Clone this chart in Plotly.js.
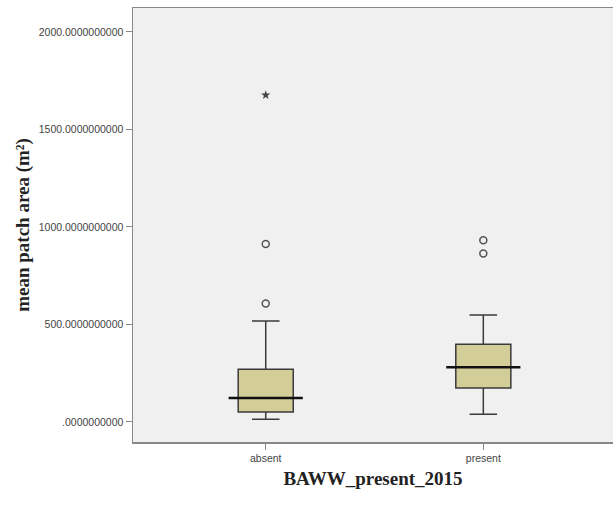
<!DOCTYPE html>
<html>
<head>
<meta charset="utf-8">
<script src="https://cdn.plot.ly/plotly-3.0.1.min.js"></script>
<style>html,body{margin:0;padding:0;background:#fff;}#chart{width:613px;height:508px;}</style>
</head>
<body>
<div id="chart"></div>
<script>
// Categories and box statistics (mean patch area, m²)
var categories = ['absent', 'present'];
var lowerFence = [14, 40];
var q1Values = [51, 174];
var medianValues = [123, 281];
var q3Values = [270, 399];
var upperFence = [518, 549];

// Outliers (circles) and extreme values (stars)
var outlierCats = ['absent', 'absent', 'present', 'present'];
var outlierValues = [607, 912, 864, 932];
var extremeCats = ['absent'];
var extremeValues = [1676];

// Y tick labels
var yTickVals = [0, 500, 1000, 1500, 2000];
var yTickText = ['.0000000000', '500.0000000000', '1000.0000000000', '1500.0000000000', '2000.0000000000'];

var boxTrace = {
  type: 'box',
  x: categories,
  q1: q1Values,
  median: medianValues,
  q3: q3Values,
  lowerfence: lowerFence,
  upperfence: upperFence,
  boxpoints: false,
  width: 0.253,
  whiskerwidth: 0.5,
  fillcolor: 'rgb(211,206,152)',
  line: {color: '#3a3a3a', width: 1.5},
  hoverinfo: 'skip',
  showlegend: false
};

var medianTrace = {
  type: 'scatter',
  mode: 'markers',
  x: categories,
  y: medianValues,
  marker: {symbol: 'line-ew', size: 53, line: {color: '#111', width: 2.5}},
  hoverinfo: 'skip',
  showlegend: false
};

var outlierTrace = {
  type: 'scatter',
  mode: 'markers',
  x: outlierCats,
  y: outlierValues,
  marker: {symbol: 'circle-open', size: 7, color: '#555', line: {color: '#555', width: 1.5}},
  showlegend: false
};

var extremeTrace = {
  type: 'scatter',
  mode: 'markers',
  x: extremeCats,
  y: extremeValues,
  marker: {symbol: 'star', size: 7, color: '#444'},
  showlegend: false
};

var layout = {
  width: 613,
  height: 508,
  margin: {l: 133, r: 0, t: 8, b: 66},
  paper_bgcolor: '#ffffff',
  plot_bgcolor: '#f0f0f0',
  showlegend: false,
  xaxis: {
    type: 'category',
    categoryarray: categories,
    range: [-0.61, 1.596],
    showgrid: false,
    zeroline: false,
    showline: true,
    mirror: true,
    linecolor: '#888',
    linewidth: 1.5,
    ticks: 'outside',
    ticklen: 6,
    tickcolor: '#888',
    tickwidth: 1,
    tickfont: {family: 'Liberation Sans, Arial, sans-serif', size: 10.5, color: '#444'},
    title: {text: '<b>BAWW_present_2015</b>', font: {family: 'Liberation Serif, Times New Roman, serif', size: 19, color: '#222'}, standoff: 8},
    automargin: false
  },
  yaxis: {
    range: [-102.6, 2122.6],
    tickvals: yTickVals,
    ticktext: yTickText,
    showgrid: false,
    zeroline: false,
    showline: true,
    linecolor: '#888',
    linewidth: 1.5,
    ticks: 'outside',
    ticklen: 6,
    tickcolor: '#888',
    tickwidth: 1,
    tickfont: {family: 'Liberation Sans, Arial, sans-serif', size: 10.5, color: '#444'},
    title: {text: '<b>mean patch area (m²)</b>', font: {family: 'Liberation Serif, Times New Roman, serif', size: 19, color: '#222'}, standoff: 4},
    automargin: false
  }
};

Plotly.newPlot('chart', [boxTrace, medianTrace, outlierTrace, extremeTrace], layout, {displayModeBar: false, staticPlot: true});
</script>
</body>
</html>
